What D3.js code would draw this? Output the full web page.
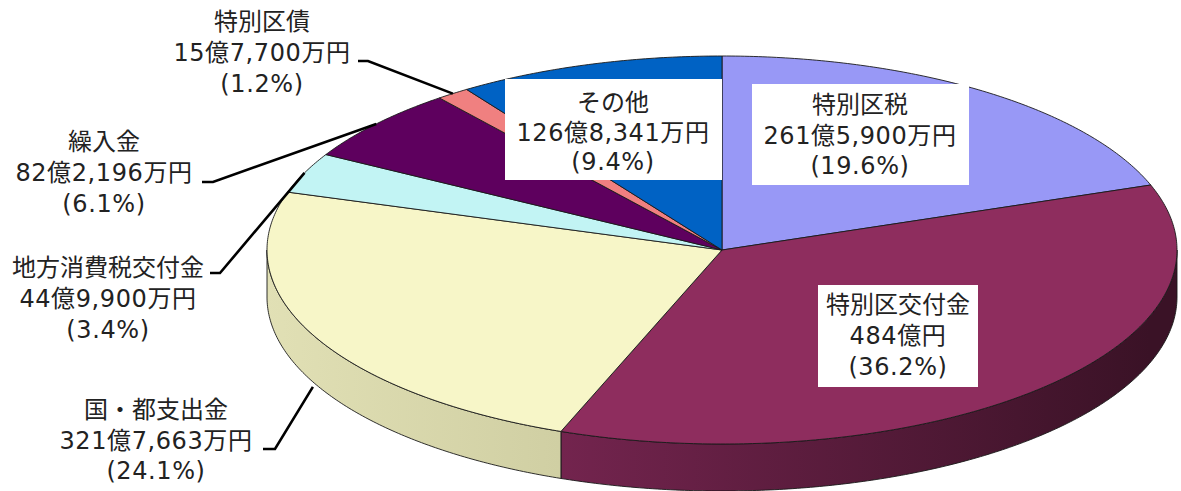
<!DOCTYPE html>
<html><head><meta charset="utf-8">
<script src="https://cdn.jsdelivr.net/npm/d3@7/dist/d3.min.js"></script>
<style>body{margin:0;background:#fff}svg{display:block}</style></head>
<body><svg id="c" width="1181" height="491"></svg>
<script>
// ---- data ----
const categories = ["特別区税","特別区交付金","国・都支出金","地方消費税交付金","繰入金","特別区債","その他"];
const amounts = [2615900, 4840000, 3217663, 449900, 822196, 157700, 1268341]; // 万円
const amountLabels = ["261億5,900万円","484億円","321億7,663万円","44億9,900万円","82億2,196万円","15億7,700万円","126億8,341万円"];
const percents = [19.6, 36.2, 24.1, 3.4, 6.1, 1.2, 9.4];

// ---- styles / layout ----
const topColors = ["#9898F6","#8E2D5E","#F7F6C8","#C2F4F4","#5E005E","#F08080","#0062C4"];
const sideColors = [["#7a7ac8","#6a6ab0"],["#73244e","#3a1226"],["#E1E0B5","#D0CFA3"],["#9cc","#8bb"],["#400040","#300030"],["#c06060","#a05050"],["#004c99","#003f80"]];
const cx = 722, cy = 250, rx = 455, ry = 194, depth = 47;
const layout = {
  "特別区税":       {box:[752,84,217,101], tx:860, ty:[105,136,166]},
  "特別区交付金":   {box:[818,285,160,102], tx:898, ty:[305,336,367]},
  "その他":         {box:[505,79,217,101], tx:613, ty:[103,133,162]},
  "特別区債":       {tx:262, ty:[22,53,84], lead:[[358,61],[368,61]]},
  "繰入金":         {tx:104, ty:[142,173,204], lead:[[202,182],[213,182]]},
  "地方消費税交付金":{tx:108, ty:[268,299,330], lead:[[210,273],[220,273]]},
  "国・都支出金":   {tx:156, ty:[410,441,471], lead:[[263,449],[275,449]]}
};

const svg = d3.select("#c");
const defs = svg.append("defs");
const px = a => cx + rx * Math.sin(a);
const py = a => cy - ry * Math.cos(a);
const pie = d3.pie().sort(null).value(d => d)(amounts);
const line = d3.line();

function arcPts(a0, a1, dy) {
  const n = Math.max(2, Math.ceil(Math.abs(a1 - a0) / 0.01));
  return d3.range(n + 1).map(i => { const a = a0 + (a1 - a0) * i / n; return [px(a), py(a) + dy]; });
}

// side gradients
pie.forEach((p, i) => {
  const g = defs.append("linearGradient").attr("id", "sg" + i)
    .attr("gradientUnits", "userSpaceOnUse")
    .attr("x1", cx - rx).attr("x2", cx + rx).attr("y1", 0).attr("y2", 0);
  g.append("stop").attr("offset", "0").attr("stop-color", sideColors[i][0]);
  g.append("stop").attr("offset", "1").attr("stop-color", sideColors[i][1]);
});
d3.select("#sg1").attr("x1", 560).attr("x2", 1150);
d3.select("#sg2").attr("x1", 265).attr("x2", 560);

// sides
const sides = svg.append("g");
pie.forEach((p, i) => {
  const s = Math.max(p.startAngle, Math.PI / 2), e = Math.min(p.endAngle, 3 * Math.PI / 2);
  if (s >= e) return;
  const pts = arcPts(s, e, 0).concat(arcPts(e, s, depth));
  sides.append("path").attr("d", line(pts) + "Z")
    .attr("fill", `url(#sg${i})`).attr("stroke", "#1a1a1a").attr("stroke-width", 0.9)
    .attr("stroke-linejoin", "round");
});

// top faces
const tops = svg.append("g");
pie.forEach((p, i) => {
  const pts = [[cx, cy]].concat(arcPts(p.startAngle, p.endAngle, 0));
  tops.append("path").attr("d", line(pts) + "Z")
    .attr("fill", topColors[i]).attr("stroke", "#1a1a1a").attr("stroke-width", 0.9)
    .attr("stroke-linejoin", "round");
});

// leader lines
const leads = svg.append("g");
pie.forEach((p, i) => {
  const L = layout[categories[i]];
  if (!L.lead) return;
  const m = (p.startAngle + p.endAngle) / 2;
  const anchor = [px(m), py(m) + (Math.cos(m) < 0 ? depth + 5 : 0)];
  leads.append("path").attr("d", line([L.lead[0], L.lead[1], anchor]))
    .attr("fill", "none").attr("stroke", "#000").attr("stroke-width", 2.6);
});

// labels
const labels = svg.append("g")
  .attr("font-family", "'DejaVu Sans','Noto Sans CJK JP',sans-serif")
  .attr("font-size", 24).attr("fill", "#222");
pie.forEach((p, i) => {
  const L = layout[categories[i]];
  if (L.box) labels.append("rect").attr("x", L.box[0]).attr("y", L.box[1])
    .attr("width", L.box[2]).attr("height", L.box[3]).attr("fill", "#fff");
  const lines = [categories[i], amountLabels[i], `(${percents[i].toFixed(1)}%)`];
  lines.forEach((t, j) => {
    labels.append("text").attr("x", L.tx).attr("y", L.ty[j])
      .attr("text-anchor", "middle").attr("dominant-baseline", "central")
      .attr("letter-spacing", j === 0 ? 0 : 0.6).text(t);
  });
});
</script></body></html>
